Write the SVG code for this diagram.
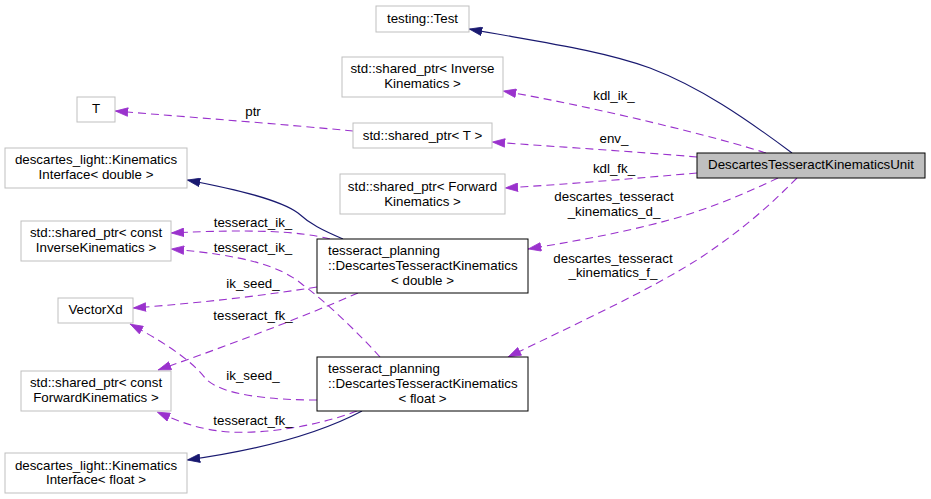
<svg xmlns="http://www.w3.org/2000/svg" width="931" height="499" viewBox="0 0 931 499">
<style>
text{font-family:"Liberation Sans",Arial,sans-serif;font-size:13.33px;fill:#000}
.c{text-anchor:middle}
.g{fill:#fff;stroke:#bfbfbf;stroke-width:1}
.b{fill:#fff;stroke:#000;stroke-width:1}
.m{fill:#bfbfbf;stroke:#000;stroke-width:1}
.inh{fill:none;stroke:#191970;stroke-width:1.1;marker-end:url(#an)}
.use{fill:none;stroke:#9a32cd;stroke-width:1.1;stroke-dasharray:8,5;marker-end:url(#ad)}
</style>
<defs>
<marker id="an" viewBox="0 0 10 7" refX="10" refY="3.5" markerWidth="13.3" markerHeight="9.3" orient="auto" markerUnits="userSpaceOnUse"><path d="M0.3,0.3 L9.7,3.5 L0.3,6.7 z" fill="#191970" stroke="#191970" stroke-width="0.6"/></marker>
<marker id="ad" viewBox="0 0 10 7" refX="10" refY="3.5" markerWidth="13.3" markerHeight="9.3" orient="auto" markerUnits="userSpaceOnUse"><path d="M0.3,0.3 L9.7,3.5 L0.3,6.7 z" fill="#9a32cd" stroke="#9a32cd" stroke-width="0.6"/></marker>
</defs>
<rect width="931" height="499" fill="#fff"/>
<g id="edges">
<path class="inh" d="M792,153 C745,118 700,87 650,68 C600,50 540,42 469,29"/>
<path class="use" d="M766,153 C720,138 600,108 503,91"/>
<text class="c" x="614" y="100">kdl_ik_</text>
<path class="use" d="M697,157 C640,152 560,147 492,142"/>
<text class="c" x="614" y="143">env_</text>
<path class="use" d="M353,131 C280,124 200,118 115,111"/>
<text class="c" x="253" y="116">ptr</text>
<path class="use" d="M697,173 C640,178 570,184 505,188"/>
<text class="c" x="614" y="173">kdl_fk_</text>
<path class="use" d="M778,178 C740,196 700,213 650,225 C610,235 570,242 528,249"/>
<text class="c" x="614" y="201">descartes_tesseract</text>
<text class="c" x="614" y="216">_kinematics_d_</text>
<path class="use" d="M797,178 C770,205 745,228 700,258 C650,290 580,322 508,357"/>
<text class="c" x="613" y="263">descartes_tesseract</text>
<text class="c" x="613" y="277">_kinematics_f_</text>
<path class="inh" d="M343,239 C322,230 310,224 298,213 C280,200 240,190 187,180"/>
<path class="use" d="M330,239 C300,231 250,229 171,233"/>
<text class="c" x="253" y="227">tesseract_ik_</text>
<path class="use" d="M380,357 C360,335 330,305 303,285 C280,265 240,255 171,249"/>
<text class="c" x="253" y="252">tesseract_ik_</text>
<path class="use" d="M317,287 C260,296 200,303 133,308"/>
<text class="c" x="253" y="288">ik_seed_</text>
<path class="use" d="M358,293 C300,318 230,345 158,370"/>
<text class="c" x="253" y="319.5">tesseract_fk_</text>
<path class="use" d="M317,400 C270,400 220,395 205,378 C195,365 175,348 130,324"/>
<text class="c" x="253" y="379.5">ik_seed_</text>
<path class="use" d="M357,411 C320,425 270,434 230,432 C200,430 180,422 157,412"/>
<text class="c" x="253" y="424.5">tesseract_fk_</text>
<path class="inh" d="M362,411 C330,428 280,447 187,460"/>
</g>
<g id="n_unit"><rect class="m" x="697" y="153" width="228" height="25"/><text class="c" x="811" y="169">DescartesTesseractKinematicsUnit</text></g>
<g id="n_test"><rect class="g" x="376" y="6" width="93" height="26"/><text class="c" x="422.5" y="22.5">testing::Test</text></g>
<g id="n_sp_ik"><rect class="g" x="342" y="57" width="161" height="40"/><text class="c" x="422.5" y="73">std::shared_ptr&lt; Inverse</text><text class="c" x="422.5" y="88">Kinematics &gt;</text></g>
<g id="n_T"><rect class="g" x="77" y="97" width="38" height="25"/><text class="c" x="96" y="113">T</text></g>
<g id="n_sp_T"><rect class="g" x="353" y="123" width="139" height="25"/><text class="c" x="422.5" y="139.5">std::shared_ptr&lt; T &gt;</text></g>
<g id="n_ki_d"><rect class="g" x="5" y="148" width="182" height="40"/><text class="c" x="96" y="164">descartes_light::Kinematics</text><text class="c" x="96" y="178.5">Interface&lt; double &gt;</text></g>
<g id="n_sp_fk"><rect class="g" x="340" y="174" width="165" height="40"/><text class="c" x="422.5" y="191">std::shared_ptr&lt; Forward</text><text class="c" x="422.5" y="205.5">Kinematics &gt;</text></g>
<g id="n_c_ik"><rect class="g" x="21" y="221" width="150" height="40"/><text class="c" x="96" y="237">std::shared_ptr&lt; const</text><text class="c" x="96" y="252">InverseKinematics &gt;</text></g>
<g id="n_dtk_d"><rect class="b" x="317" y="239" width="211" height="54"/><text x="328" y="254.5">tesseract_planning</text><text x="328" y="269.5">::DescartesTesseractKinematics</text><text class="c" x="422.5" y="285">&lt; double &gt;</text></g>
<g id="n_vec"><rect class="g" x="58" y="298" width="75" height="25"/><text class="c" x="95.5" y="314">VectorXd</text></g>
<g id="n_c_fk"><rect class="g" x="21" y="371" width="150" height="40"/><text class="c" x="96" y="387">std::shared_ptr&lt; const</text><text class="c" x="96" y="401.5">ForwardKinematics &gt;</text></g>
<g id="n_dtk_f"><rect class="b" x="317" y="357" width="211" height="54"/><text x="328" y="373">tesseract_planning</text><text x="328" y="388">::DescartesTesseractKinematics</text><text class="c" x="422.5" y="403">&lt; float &gt;</text></g>
<g id="n_ki_f"><rect class="g" x="5" y="453" width="182" height="40"/><text class="c" x="96" y="469.5">descartes_light::Kinematics</text><text class="c" x="96" y="484">Interface&lt; float &gt;</text></g>
</svg>
